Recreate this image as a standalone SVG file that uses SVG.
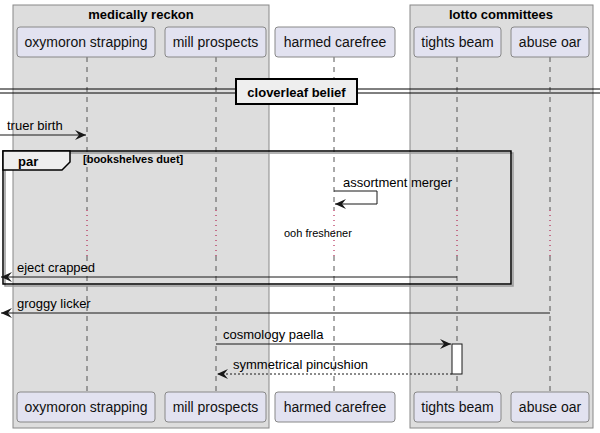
<svg xmlns="http://www.w3.org/2000/svg" width="600" height="433" viewBox="0 0 600 433">
<style>
text{font-family:"Liberation Sans",Arial,sans-serif;fill:#000}
.grp{fill:#DDDDDD;stroke:#888888;stroke-width:1}
.gt{font-size:13px;font-weight:bold;text-anchor:middle}
.pbox{fill:#E2E2F0;stroke:#888888;stroke-width:1}
.pt{font-size:14px;text-anchor:middle;fill:#111}
.life{stroke:#555555;stroke-width:1;stroke-dasharray:5,5}
.delay{stroke:#A80036;stroke-width:1;stroke-dasharray:1,4}
.msg{stroke:#181818;stroke-width:1;fill:none}
.dash{stroke-dasharray:2,2}
.ah{fill:#181818;stroke:#181818}
.mt{font-size:13px}
</style>
<defs>
<marker id="arr" viewBox="0 0 12 10" refX="11" refY="5" markerWidth="12" markerHeight="10" markerUnits="userSpaceOnUse" orient="auto">
<path d="M0,0 L11,5 L0,10 L4,5 Z" fill="#181818"/>
</marker>
</defs>
<g id="group-medically-reckon">
<rect class="grp" x="13" y="5" width="256" height="423"/>
<text class="gt" x="141" y="19">medically reckon</text>
</g>
<g id="group-lotto-committees">
<rect class="grp" x="410" y="5" width="183" height="423"/>
<text class="gt" x="501" y="19">lotto committees</text>
</g>
<g id="lifelines">
<line class="life" x1="87" y1="57" x2="87" y2="210"/>
<line class="delay" x1="87" y1="210" x2="87" y2="256"/>
<line class="life" x1="87" y1="256" x2="87" y2="392"/>
<line class="life" x1="216" y1="57" x2="216" y2="210"/>
<line class="delay" x1="216" y1="210" x2="216" y2="256"/>
<line class="life" x1="216" y1="256" x2="216" y2="392"/>
<line class="life" x1="334" y1="57" x2="334" y2="210"/>
<line class="delay" x1="334" y1="210" x2="334" y2="256"/>
<line class="life" x1="334" y1="256" x2="334" y2="392"/>
<line class="life" x1="457" y1="57" x2="457" y2="210"/>
<line class="delay" x1="457" y1="210" x2="457" y2="256"/>
<line class="life" x1="457" y1="256" x2="457" y2="392"/>
<line class="life" x1="550" y1="57" x2="550" y2="210"/>
<line class="delay" x1="550" y1="210" x2="550" y2="256"/>
<line class="life" x1="550" y1="256" x2="550" y2="392"/>
</g>
<g id="p-oxymoron-strapping">
<rect class="pbox" x="17" y="27" width="138" height="30" rx="3"/>
<text class="pt" x="86" y="47">oxymoron strapping</text>
<rect class="pbox" x="17" y="392" width="138" height="30" rx="3"/>
<text class="pt" x="86" y="412">oxymoron strapping</text>
</g>
<g id="p-mill-prospects">
<rect class="pbox" x="165" y="27" width="101" height="30" rx="3"/>
<text class="pt" x="215.5" y="47">mill prospects</text>
<rect class="pbox" x="165" y="392" width="101" height="30" rx="3"/>
<text class="pt" x="215.5" y="412">mill prospects</text>
</g>
<g id="p-harmed-carefree">
<rect class="pbox" x="275" y="27" width="120" height="30" rx="3"/>
<text class="pt" x="335" y="47">harmed carefree</text>
<rect class="pbox" x="275" y="392" width="120" height="30" rx="3"/>
<text class="pt" x="335" y="412">harmed carefree</text>
</g>
<g id="p-tights-beam">
<rect class="pbox" x="414" y="27" width="87" height="30" rx="3"/>
<text class="pt" x="457.5" y="47">tights beam</text>
<rect class="pbox" x="414" y="392" width="87" height="30" rx="3"/>
<text class="pt" x="457.5" y="412">tights beam</text>
</g>
<g id="p-abuse-oar">
<rect class="pbox" x="511" y="27" width="78" height="30" rx="3"/>
<text class="pt" x="550" y="47">abuse oar</text>
<rect class="pbox" x="511" y="392" width="78" height="30" rx="3"/>
<text class="pt" x="550" y="412">abuse oar</text>
</g>
<g id="divider-cloverleaf-belief">
<line x1="0" y1="89" x2="600" y2="89" stroke="#000" stroke-width="1"/>
<line x1="0" y1="93" x2="600" y2="93" stroke="#000" stroke-width="1"/>
<rect x="236" y="79" width="121" height="25" fill="#EEEEEE" stroke="#000" stroke-width="2"/>
<text x="296.5" y="97" font-size="13" font-weight="bold" text-anchor="middle">cloverleaf belief</text>
</g>
<g id="frame-par">
<rect x="5" y="153" width="508" height="133" fill="none" stroke="#999999" stroke-width="1.5"/>
<rect x="3" y="151" width="508" height="133" fill="none" stroke="#000" stroke-width="1.5"/>
<path d="M3,151 L70,151 L70,162 L62,170 L3,170 Z" fill="#EEEEEE" stroke="#000" stroke-width="1.5"/>
<text x="18" y="166" font-size="13" font-weight="bold">par</text>
<text x="83" y="163" font-size="11" font-weight="bold">[bookshelves duet]</text>
</g>
<g id="connectors">
<line class="msg" x1="0" y1="135" x2="86" y2="135" marker-end="url(#arr)"/>
<text class="mt" x="7" y="130">truer birth</text>
<path class="msg" d="M334,191 L377,191 L377,204 L335,204" marker-end="url(#arr)"/>
<text class="mt" x="343" y="187">assortment merger</text>
<text x="284" y="237" font-size="11">ooh freshener</text>
<line class="msg" x1="457" y1="277" x2="1" y2="277" marker-end="url(#arr)"/>
<text class="mt" x="17" y="272">eject crapped</text>
<line class="msg" x1="550" y1="313" x2="1" y2="313" marker-end="url(#arr)"/>
<text class="mt" x="17" y="308">groggy licker</text>
<line class="msg" x1="216" y1="344" x2="451" y2="344" marker-end="url(#arr)"/>
<text class="mt" x="223" y="339">cosmology paella</text>
<line class="msg dash" x1="452" y1="374" x2="217" y2="374" marker-end="url(#arr)"/>
<text class="mt" x="233" y="369">symmetrical pincushion</text>
</g>
<g id="activation-tights-beam">
<rect x="452" y="344" width="10" height="30" fill="#FFFFFF" stroke="#181818" stroke-width="1"/>
</g>
</svg>
